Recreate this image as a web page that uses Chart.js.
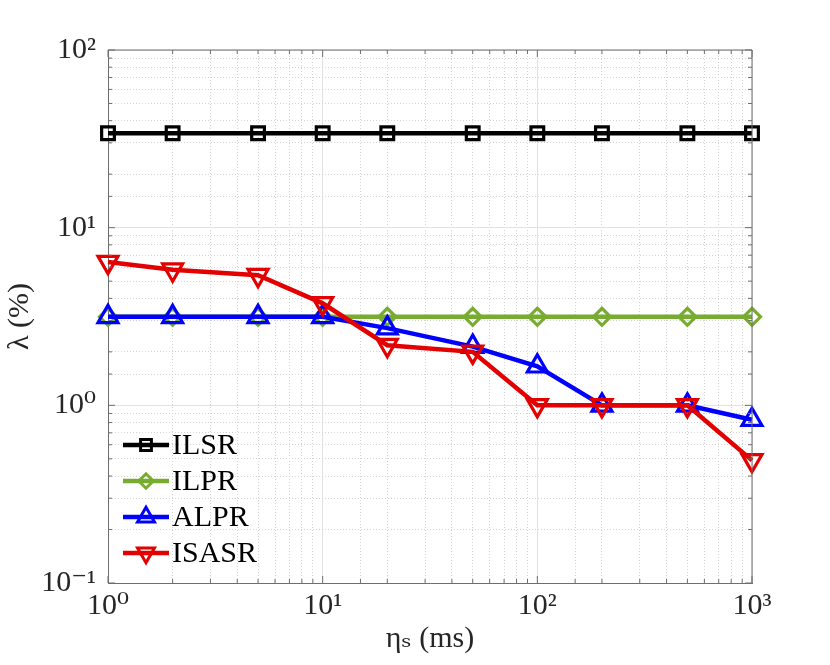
<!DOCTYPE html>
<html>
<head>
<meta charset="utf-8">
<script src="https://cdn.jsdelivr.net/npm/chart.js@4/dist/chart.umd.min.js"></script>
<style>
  body { margin: 0; background: #fff; }
  #wrap { width: 830px; height: 665px; }
</style>
</head>
<body>
<div id="wrap"><canvas id="lambdaChart"></canvas></div>
<script>
// eta_s values (ms) and lambda (%) for each scheme
const etaS  = [1, 2, 5, 10, 20, 50, 100, 200, 500, 1000];
const ilsr  = [34, 34, 34, 34, 34, 34, 34, 34, 34, 34];
const ilpr  = [3.15, 3.15, 3.15, 3.15, 3.15, 3.15, 3.15, 3.15, 3.15, 3.15];
const alpr  = [3.15, 3.15, 3.15, 3.15, 2.72, 2.14, 1.66, 1.0, 1.0, 0.83];
const isasr = [6.4, 5.8, 5.4, 3.75, 2.18, 2.0, 1.0, 1.0, 1.0, 0.49];

const xTickValues = [1, 10, 100, 1000];
const xTickLabels = ['10⁰', '10¹', '10²', '10³'];
const yTickValues = [0.1, 1, 10, 100];
const yTickLabels = ['10⁻¹', '10⁰', '10¹', '10²'];

const axisColor = '#6e6e6e';
const textColor = '#262626';
const serif = '"Liberation Serif", "DejaVu Serif", serif';

function isPow10(v) {
    let l = Math.log10(v);
    return Math.abs(l - Math.round(l)) < 1e-9;
}

function labelFor(values, labels, v) {
    for (let i = 0; i < values.length; i++) {
        if (Math.abs(values[i] - v) / values[i] < 1e-9) return labels[i];
    }
    return '';
}

function pts(ys) {
    return etaS.map((x, i) => ({ x: x, y: ys[i] }));
}

// box round the axes and the inward tick marks, MATLAB style
const boxPlugin = {
    id: 'boxPlugin',
    afterDraw(chart) {
        const ctx = chart.ctx;
        const a = chart.chartArea;
        const xs = chart.scales.x, ys = chart.scales.y;
        ctx.save();
        ctx.strokeStyle = axisColor;
        ctx.lineWidth = 1;
        ctx.beginPath();
        ctx.moveTo(a.left, a.top); ctx.lineTo(a.right, a.top); ctx.lineTo(a.right, a.bottom);
        xs.ticks.forEach(t => {
            let px = xs.getPixelForValue(t.value);
            let len = isPow10(t.value) ? 7 : 4;
            ctx.moveTo(px, a.bottom); ctx.lineTo(px, a.bottom - len);
            ctx.moveTo(px, a.top); ctx.lineTo(px, a.top + len);
        });
        ys.ticks.forEach(t => {
            let py = ys.getPixelForValue(t.value);
            let len = isPow10(t.value) ? 7 : 4;
            ctx.moveTo(a.left, py); ctx.lineTo(a.left + len, py);
            ctx.moveTo(a.right, py); ctx.lineTo(a.right - len, py);
        });
        ctx.stroke();
        ctx.restore();
    }
};

// legend drawn inside the plot, bottom left
const insideLegend = {
    id: 'insideLegend',
    afterDatasetsDraw(chart) {
        const ctx = chart.ctx;
        const a = chart.chartArea;
        ctx.save();
        chart.data.datasets.forEach((ds, i) => {
            let y = a.bottom - 138 + i * 36;
            let x0 = a.left + 15, x1 = x0 + 46, xm = (x0 + x1) / 2;
            ctx.strokeStyle = ds.borderColor;
            ctx.lineWidth = 4.5;
            ctx.beginPath();
            ctx.moveTo(x0, y); ctx.lineTo(x1, y);
            ctx.stroke();
            ctx.fillStyle = 'rgba(0,0,0,0)';
            ctx.lineWidth = 3;
            Chart.helpers.drawPoint(ctx, {
                pointStyle: ds.pointStyle,
                rotation: ds.pointRotation || 0,
                radius: ds.pointRadius * 0.85,
                borderWidth: 3
            }, xm, y);
            ctx.fillStyle = '#000';
            ctx.font = '30px ' + serif;
            ctx.textBaseline = 'middle';
            ctx.textAlign = 'left';
            ctx.fillText(ds.label, x1 + 3, y + 1);
        });
        ctx.restore();
    }
};

function series(label, ys, color, style, radius, rot, order) {
    return {
        label: label,
        data: pts(ys),
        borderColor: color,
        backgroundColor: 'rgba(0,0,0,0)',
        borderWidth: 4.5,
        pointStyle: style,
        pointRadius: radius,
        pointRotation: rot,
        pointBorderWidth: 3.2,
        pointBorderColor: color,
        pointBackgroundColor: 'rgba(0,0,0,0)',
        tension: 0,
        clip: false,
        order: order
    };
}

const gridOpts = {
    color: c => (c.tick && isPow10(c.tick.value)) ? '#e2e2e2' : '#d4d4d4',
    lineWidth: 1,
    drawTicks: false
};
const borderOpts = {
    color: axisColor,
    width: 1,
    dash: c => (c.tick && !isPow10(c.tick.value)) ? [1, 2] : []
};

new Chart(document.getElementById('lambdaChart'), {
    type: 'line',
    data: {
        datasets: [
            series('ILSR', ilsr, '#000000', 'rect', 9, 0, 4),
            series('ILPR', ilpr, '#77AC30', 'rectRot', 8.5, 0, 3),
            series('ALPR', alpr, '#0000FF', 'triangle', 11.5, 0, 2),
            series('ISASR', isasr, '#E20000', 'triangle', 11.5, 180, 1)
        ]
    },
    options: {
        responsive: true,
        maintainAspectRatio: false,
        animation: false,
        layout: { padding: { left: 0, right: 78, top: 50, bottom: 0 } },
        plugins: {
            legend: { display: false },
            tooltip: { enabled: false }
        },
        scales: {
            x: {
                type: 'logarithmic',
                min: 1,
                max: 1000,
                grid: gridOpts,
                border: borderOpts,
                afterFit: s => { s.height = 82; },
                ticks: {
                    autoSkip: false,
                    maxRotation: 0,
                    padding: 5,
                    color: textColor,
                    font: { family: serif, size: 30 },
                    callback: v => labelFor(xTickValues, xTickLabels, v)
                },
                title: {
                    display: true,
                    text: 'ηₛ (ms)',
                    color: textColor,
                    font: { family: serif, size: 30 },
                    padding: { top: 0, bottom: 8 }
                }
            },
            y: {
                type: 'logarithmic',
                min: 0.1,
                max: 100,
                grid: gridOpts,
                border: borderOpts,
                afterFit: s => { s.width = 108; },
                ticks: {
                    autoSkip: false,
                    padding: 12,
                    color: textColor,
                    font: { family: serif, size: 30 },
                    callback: v => labelFor(yTickValues, yTickLabels, v)
                },
                title: {
                    display: true,
                    text: 'λ (%)',
                    color: textColor,
                    font: { family: serif, size: 30 },
                    padding: { top: 2, bottom: 0 }
                }
            }
        }
    },
    plugins: [boxPlugin, insideLegend]
});
</script>
</body>
</html>
